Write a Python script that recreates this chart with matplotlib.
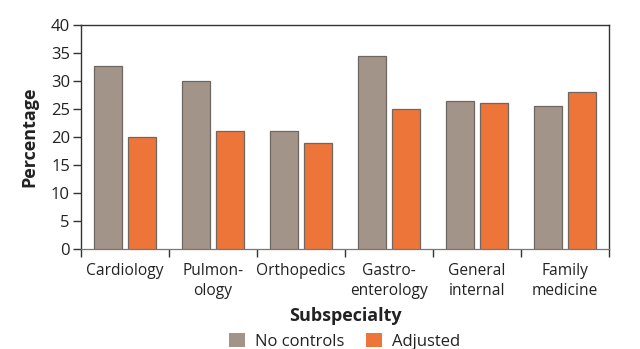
import matplotlib
matplotlib.use("Agg")
import matplotlib.pyplot as plt
import numpy as np
from matplotlib.patches import Patch

plt.rcParams['font.family'] = ['Open Sans', 'DejaVu Sans']

categories = ["Cardiology", "Pulmon-\nology", "Orthopedics", "Gastro-\nenterology",
              "General\ninternal", "Family\nmedicine"]
no_controls = [32.7, 30.0, 21.0, 34.5, 26.5, 25.5]
adjusted = [20.0, 21.0, 19.0, 25.0, 26.0, 28.0]
y_ticks = [0, 5, 10, 15, 20, 25, 30, 35, 40]

gray = '#A39489'
orange = '#EE753A'
edge = '#6E6660'

fig = plt.figure(figsize=(6.4, 3.49), dpi=100)
ax = fig.add_axes([0.1266, 0.2865, 0.8250, 0.6419])

x = np.arange(len(categories)) + 0.5
w = 0.32
off = 0.19
ax.bar(x - off, no_controls, w, color=gray, edgecolor=edge, linewidth=0.9, zorder=3)
ax.bar(x + off, adjusted, w, color=orange, edgecolor=edge, linewidth=0.9, zorder=3)

ax.set_xlim(0, len(categories))
ax.set_ylim(0, 40)
ax.set_yticks(y_ticks)
ax.tick_params(axis='y', direction='out', length=6, width=1, color='#333333',
               labelsize=12, pad=2, labelcolor='#222222')

ax.set_xticks(x)
ax.set_xticklabels(categories, fontsize=11.2, color='#222222', linespacing=1.3, va='top')
ax.tick_params(axis='x', which='major', length=0, pad=10)
ax.set_xticks(np.arange(len(categories) + 1), minor=True)
ax.tick_params(axis='x', which='minor', direction='out', length=6, width=1, color='#333333')

for s in ['left', 'right', 'top']:
    ax.spines[s].set_color('#333333')
    ax.spines[s].set_linewidth(1)
ax.spines['bottom'].set_color('#777777')
ax.spines['bottom'].set_linewidth(0.9)

ax.set_ylabel('Percentage', fontsize=13, fontweight='bold', color='#222222', labelpad=9)
ax.set_xlabel('Subspecialty', fontsize=13, fontweight='bold', color='#222222', labelpad=6)

handles = [Patch(facecolor=gray, edgecolor='none', label='No controls'),
           Patch(facecolor=orange, edgecolor='none', label='Adjusted')]
fig.legend(handles=handles, loc='lower center', bbox_to_anchor=(0.538, -0.045), ncol=2,
           frameon=False, fontsize=12, handlelength=0.95, handleheight=1.0,
           columnspacing=1.3, handletextpad=0.6, labelcolor='#222222')

fig.savefig('out.png', dpi=100)
